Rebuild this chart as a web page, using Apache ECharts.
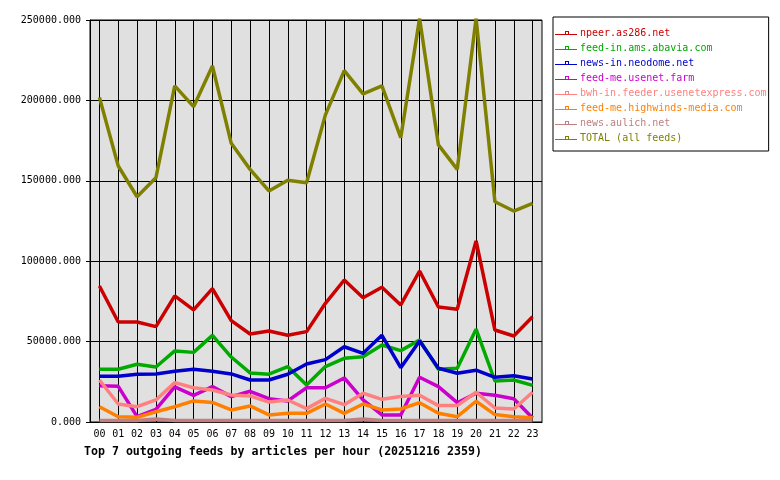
<!DOCTYPE html>
<html>
<head>
<meta charset="utf-8">
<script src="https://cdn.jsdelivr.net/npm/echarts@6/dist/echarts.min.js"></script>
<style>html,body{margin:0;padding:0;background:#fff}#c{width:780px;height:480px}</style>
</head>
<body>
<div id="c"></div>
<script>
const hours = ['00','01','02','03','04','05','06','07','08','09','10','11','12','13','14','15','16','17','18','19','20','21','22','23'];
const seriesNames = ['npeer.as286.net','feed-in.ams.abavia.com','news-in.neodome.net','feed-me.usenet.farm','bwh-in.feeder.usenetexpress.com','feed-me.highwinds-media.com','news.aulich.net','TOTAL (all feeds)'];
const seriesColors = ['#cc0000','#00aa00','#0000cc','#cc00cc','#ff8080','#ff8000','#c08080','#808000'];
const npeer = [84600,62200,62200,59300,78400,69700,82900,63000,54700,56600,53900,56200,73800,88300,77300,83800,72800,93900,71500,70100,112600,57200,53500,65500];
const feedinAms = [32800,32800,35900,34200,44200,43300,53900,40400,30500,29700,34400,23000,34500,39600,40600,47900,44400,51000,32800,33400,57700,25500,26100,22800];
const newsinNeodome = [28400,28400,29700,29900,31500,32800,31500,29900,26100,26100,29700,36100,38800,46800,42700,53900,33800,50400,33400,30300,32200,27800,28800,26700];
const feedmeUsenetFarm = [22600,22200,3300,7900,21800,16600,22000,15800,19100,14500,13100,21300,21300,27400,13700,4400,4400,27800,22000,12000,17900,16600,14500,2500];
const bwhUsenetexpress = [26100,11200,9500,13700,24500,21300,19900,16800,16200,12400,13700,8300,14700,10800,17900,14100,15800,16600,10200,10200,18500,8700,8100,18500];
const feedmeHighwinds = [9500,3300,2900,6400,9500,13100,12200,7500,10000,4400,5400,5400,11200,5400,11200,7500,8100,12000,5400,3300,12900,4600,3300,2700];
const newsAulich = [900,900,900,1800,900,900,900,900,900,900,900,900,900,900,1800,900,900,900,900,900,900,900,900,900];
const total = [201900,159200,140100,151900,209000,196100,221400,173300,157100,143700,150300,148800,191000,218500,204000,209000,176800,251000,172300,157100,251000,137000,131200,136000];
const yTicks = {min: 0, max: 250000, interval: 50000};
const titleText = 'Top 7 outgoing feeds by articles per hour (20251216 2359)';

const allData = [npeer, feedinAms, newsinNeodome, feedmeUsenetFarm, bwhUsenetexpress, feedmeHighwinds, newsAulich, total];
const mono = 'DejaVu Sans Mono';
const legendIcon = 'path://M0,3 L10,3 L10,0 L14,0 L14,3 L22,3 L22,4 L0,4 Z M11,1 L11,3 L13,3 L13,1 Z';

const chart = echarts.init(document.getElementById('c'), null, {renderer: 'canvas'});
chart.setOption({
  animation: false,
  backgroundColor: '#ffffff',
  title: {
    text: titleText, left: 79, top: 441,
    textStyle: {fontFamily: mono, fontWeight: 'bold', fontSize: 11.6, color: '#000'}
  },
  legend: {
    orient: 'vertical', left: 553, top: 17,
    padding: [11, 2, 8, 2], itemGap: 5, itemWidth: 22, itemHeight: 4,
    icon: legendIcon,
    borderColor: '#000', borderWidth: 1, backgroundColor: '#fff',
    data: seriesNames.map((n, i) => ({name: n, textStyle: {color: seriesColors[i]}})),
    textStyle: {fontFamily: mono, fontSize: 10, padding: [0,0,0,-2]}
  },
  grid: {
    left: 90, right: 238, top: 20, bottom: 58,
    show: true, backgroundColor: '#e0e0e0', borderColor: '#000', borderWidth: 1
  },
  xAxis: {
    type: 'category', data: hours, boundaryGap: true,
    axisLine: {lineStyle: {color: '#000', width: 1}},
    axisTick: {alignWithLabel: true, length: 4, lineStyle: {color: '#000'}},
    axisLabel: {interval: 0, margin: 7, fontFamily: mono, fontSize: 10, color: '#000'},
    splitLine: {show: true, alignWithLabel: true, interval: 0, lineStyle: {color: '#000', width: 1}}
  },
  yAxis: {
    type: 'value', min: yTicks.min, max: yTicks.max, interval: yTicks.interval,
    axisLine: {show: true, lineStyle: {color: '#000'}},
    axisTick: {show: true, length: 4, lineStyle: {color: '#000'}},
    axisLabel: {margin: 9, fontFamily: mono, fontSize: 10, color: '#000', formatter: v => v.toFixed(3)},
    splitLine: {show: true, lineStyle: {color: '#000', width: 1}}
  },
  series: seriesNames.map((n, i) => ({
    name: n, type: 'line', data: allData[i],
    color: seriesColors[i],
    symbol: 'emptyRect', symbolSize: 4, showSymbol: false,
    lineStyle: {width: 3.5, color: seriesColors[i]},
    itemStyle: {color: seriesColors[i], borderColor: seriesColors[i]},
    clip: true
  }))
});
</script>
</body>
</html>
